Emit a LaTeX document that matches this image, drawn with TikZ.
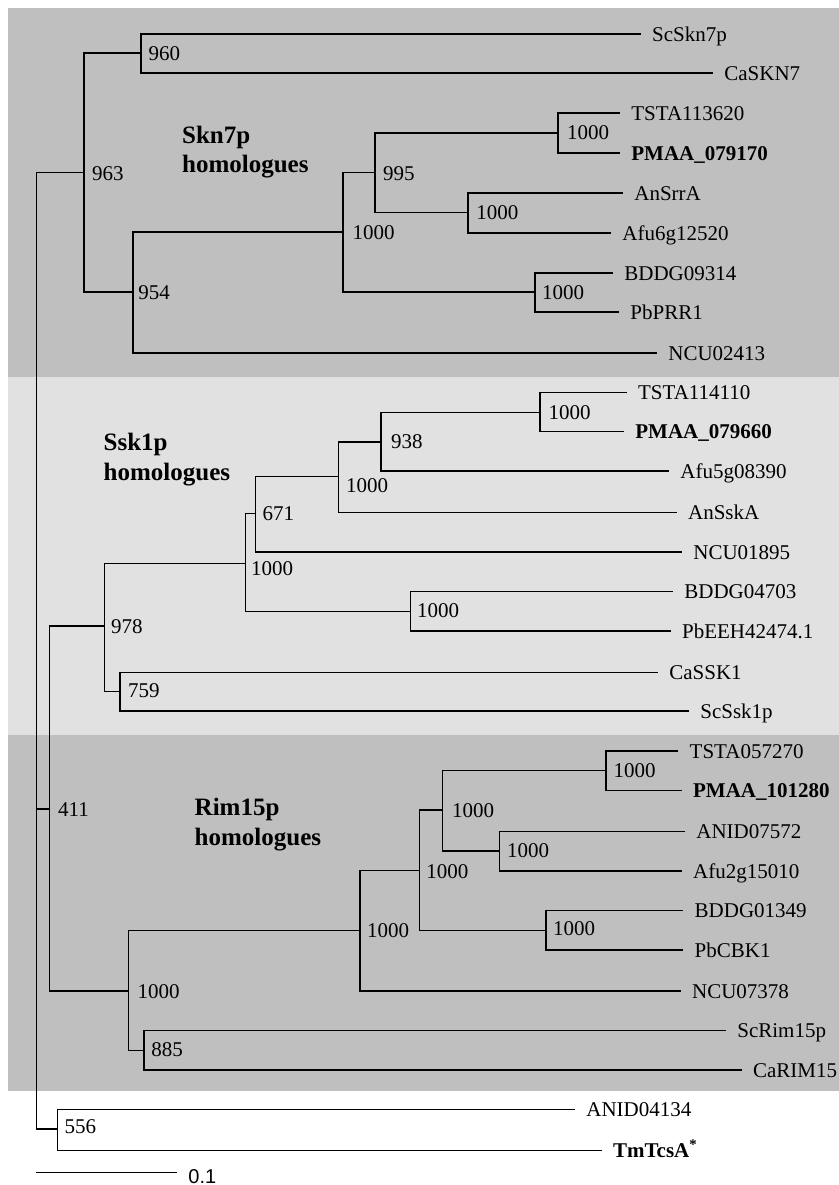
\documentclass[tikz,border=0pt]{standalone}
\usepackage{fontspec}
\setmainfont{Liberation Serif}
\newfontfamily\barfnt{Liberation Sans}
\definecolor{darkbg}{RGB}{191,191,191}
\definecolor{lightbg}{RGB}{225,225,225}
\tikzset{
  br/.style={line width=0.75pt},
  leaf/.style={anchor=west, inner xsep=5.5pt, inner ysep=0pt, text height=7pt, text depth=0pt, font=\fontsize{10.5}{12}\selectfont},
  boot/.style={anchor=west, inner sep=0pt, text height=7pt, text depth=0pt, font=\fontsize{10.5}{12}\selectfont},
  clade/.style={anchor=base west, inner sep=0pt, font=\bfseries\fontsize{12.5}{14.7}\selectfont},
}
\begin{document}
\begin{tikzpicture}[x=0.5pt, y=-0.5pt]
\useasboundingbox (0,0) rectangle (839,1185);
% backgrounds
\fill[darkbg] (8,8) rectangle (839,377);
\fill[lightbg] (8,377) rectangle (839,735);
\fill[darkbg] (8,735) rectangle (839,1091);

% internal nodes
\coordinate (root) at (36.7,809);
\coordinate (n963) at (84,172.3);
\coordinate (n960) at (141,53);
\coordinate (n954) at (133,292);
\coordinate (nSk) at (343,232);
\coordinate (n995) at (375,172.3);
\coordinate (nT1) at (558,133);
\coordinate (nAn) at (468,212.7);
\coordinate (nBD1) at (535,292);
\coordinate (n411) at (49.3,809);
\coordinate (n978) at (104.3,626);
\coordinate (nS1) at (245.7,563.3);
\coordinate (n671) at (255.7,513.3);
\coordinate (nS2) at (338.7,476.7);
\coordinate (n938) at (381,442);
\coordinate (nT2) at (540,412.3);
\coordinate (nBD2) at (410.7,611.7);
\coordinate (n759) at (120,691.7);
\coordinate (nR1) at (128.3,991);
\coordinate (nR2) at (360,930.5);
\coordinate (nR3) at (419.3,870.7);
\coordinate (nR4) at (442.7,810);
\coordinate (nT3) at (606,770.7);
\coordinate (nA3) at (499.3,851);
\coordinate (nBD3) at (546,930.5);
\coordinate (n885) at (144,1050.7);
\coordinate (n556) at (57.7,1129);

% leaves
\node[leaf] (lScSkn7p) at (640.7,34) {ScSkn7p};
\node[leaf] (lCaSKN7) at (713,73) {CaSKN7};
\node[leaf] (lTSTA113620) at (620,113) {TSTA113620};
\node[leaf,font=\bfseries\fontsize{10.5}{12}\selectfont] (lPMAA079170) at (620,153) {PMAA\_079170};
\node[leaf] (lAnSrrA) at (623,193) {AnSrrA};
\node[leaf] (lAfu6g12520) at (611,233) {Afu6g12520};
\node[leaf] (lBDDG09314) at (613,273) {BDDG09314};
\node[leaf] (lPbPRR1) at (619,312) {PbPRR1};
\node[leaf] (lNCU02413) at (657,353) {NCU02413};
\node[leaf] (lTSTA114110) at (626.7,392.3) {TSTA114110};
\node[leaf,font=\bfseries\fontsize{10.5}{12}\selectfont] (lPMAA079660) at (624,431.7) {PMAA\_079660};
\node[leaf] (lAfu5g08390) at (669,471) {Afu5g08390};
\node[leaf] (lAnSskA) at (676.7,512.7) {AnSskA};
\node[leaf] (lNCU01895) at (682,552) {NCU01895};
\node[leaf] (lBDDG04703) at (673,591.7) {BDDG04703};
\node[leaf] (lPbEEH) at (670.7,631) {PbEEH42474.1};
\node[leaf] (lCaSSK1) at (658,672.3) {CaSSK1};
\node[leaf] (lScSsk1p) at (689,711) {ScSsk1p};
\node[leaf] (lTSTA057270) at (678.3,751) {TSTA057270};
\node[leaf,font=\bfseries\fontsize{10.5}{12}\selectfont] (lPMAA101280) at (681.7,790.7) {PMAA\_101280};
\node[leaf] (lANID07572) at (685,831.7) {ANID07572};
\node[leaf] (lAfu2g15010) at (681.7,871) {Afu2g15010};
\node[leaf] (lBDDG01349) at (683.3,910.7) {BDDG01349};
\node[leaf] (lPbCBK1) at (683.3,950) {PbCBK1};
\node[leaf] (lNCU07378) at (680.7,991) {NCU07378};
\node[leaf] (lScRim15p) at (726,1030.7) {ScRim15p};
\node[leaf] (lCaRIM15) at (741.7,1070) {CaRIM15};
\node[leaf] (lANID04134) at (575,1109.3) {ANID04134};
\node[leaf,font=\bfseries\fontsize{10.5}{12}\selectfont] (lTmTcsA) at (601.7,1150.7) {TmTcsA\textsuperscript{*}};

% branches
\begin{scope}[br]
\draw (root) |- (n963);
\draw (root) |- (n411);
\draw (root) |- (n556);
\draw (n963) |- (n960);
\draw (n963) |- (n954);
\draw (n960) |- (lScSkn7p.west);
\draw (n960) |- (lCaSKN7.west);
\draw (n954) |- (nSk);
\draw (n954) |- (lNCU02413.west);
\draw (nSk) |- (n995);
\draw (nSk) |- (nBD1);
\draw (n995) |- (nT1);
\draw (n995) |- (nAn);
\draw (nT1) |- (lTSTA113620.west);
\draw (nT1) |- (lPMAA079170.west);
\draw (nAn) |- (lAnSrrA.west);
\draw (nAn) |- (lAfu6g12520.west);
\draw (nBD1) |- (lBDDG09314.west);
\draw (nBD1) |- (lPbPRR1.west);
\draw (n411) |- (n978);
\draw (n411) |- (nR1);
\draw (n978) |- (nS1);
\draw (n978) |- (n759);
\draw (nS1) |- (n671);
\draw (nS1) |- (nBD2);
\draw (n671) |- (nS2);
\draw (n671) |- (lNCU01895.west);
\draw (nS2) |- (n938);
\draw (nS2) |- (lAnSskA.west);
\draw (n938) |- (nT2);
\draw (n938) |- (lAfu5g08390.west);
\draw (nT2) |- (lTSTA114110.west);
\draw (nT2) |- (lPMAA079660.west);
\draw (nBD2) |- (lBDDG04703.west);
\draw (nBD2) |- (lPbEEH.west);
\draw (n759) |- (lCaSSK1.west);
\draw (n759) |- (lScSsk1p.west);
\draw (nR1) |- (nR2);
\draw (nR1) |- (n885);
\draw (nR2) |- (nR3);
\draw (nR2) |- (lNCU07378.west);
\draw (nR3) |- (nR4);
\draw (nR3) |- (nBD3);
\draw (nR4) |- (nT3);
\draw (nR4) |- (nA3);
\draw (nT3) |- (lTSTA057270.west);
\draw (nT3) |- (lPMAA101280.west);
\draw (nA3) |- (lANID07572.west);
\draw (nA3) |- (lAfu2g15010.west);
\draw (nBD3) |- (lBDDG01349.west);
\draw (nBD3) |- (lPbCBK1.west);
\draw (n885) |- (lScRim15p.west);
\draw (n885) |- (lCaRIM15.west);
\draw (n556) |- (lANID04134.west);
\draw (n556) |- (lTmTcsA.west);
\end{scope}

% bootstrap values
\node[boot] (b960) at (148.3,53) {960};
\node[boot] (b963) at (91.7,173) {963};
\node[boot] (b954) at (138,292.5) {954};
\node[boot] (bSk) at (352.3,232) {1000};
\node[boot] (b995) at (382.7,173) {995};
\node[boot] (bT1) at (566.7,132.3) {1000};
\node[boot] (bAn) at (476,212) {1000};
\node[boot] (bBD1) at (541.7,292.3) {1000};
\node[boot] (bT2) at (548.3,412.3) {1000};
\node[boot] (b938) at (390.7,441.7) {938};
\node[boot] (bS2) at (345.7,485.7) {1000};
\node[boot] (b671) at (262.3,513.3) {671};
\node[boot] (bS1) at (250.7,568.3) {1000};
\node[boot] (bBD2) at (416.7,610) {1000};
\node[boot] (b978) at (110.7,626.7) {978};
\node[boot] (b759) at (127.7,690) {759};
\node[boot] (bT3) at (613.3,770.7) {1000};
\node[boot] (bR4) at (451.7,810) {1000};
\node[boot] (bA3) at (506.7,850) {1000};
\node[boot] (bR3) at (426,871.7) {1000};
\node[boot] (bBD3) at (552.7,928.3) {1000};
\node[boot] (bR2) at (366.7,930.7) {1000};
\node[boot] (bR1) at (137.3,991.7) {1000};
\node[boot] (b885) at (151,1049) {885};
\node[boot] (b411) at (57.7,809) {411};
\node[boot] (b556) at (64.3,1126.7) {556};

% clade labels
\node[clade] (cSkA) at (181.7,143.3) {Skn7p};
\node[clade] (cSkB) at (181.7,172.7) {homologues};
\node[clade] (cSsA) at (103.3,450.7) {Ssk1p};
\node[clade] (cSsB) at (103.3,480.7) {homologues};
\node[clade] (cRiA) at (194.3,815.7) {Rim15p};
\node[clade] (cRiB) at (194.3,845.7) {homologues};

% scale bar
\coordinate (sb0) at (36,1172.3);
\coordinate (sb1) at (176.7,1172.3);
\draw[br] (sb0) -- (sb1);
\node[anchor=base west, inner sep=0pt, font=\barfnt\fontsize{10}{12}\selectfont] (sblab) at (188,1183) {0.1};
\end{tikzpicture}
\end{document}
